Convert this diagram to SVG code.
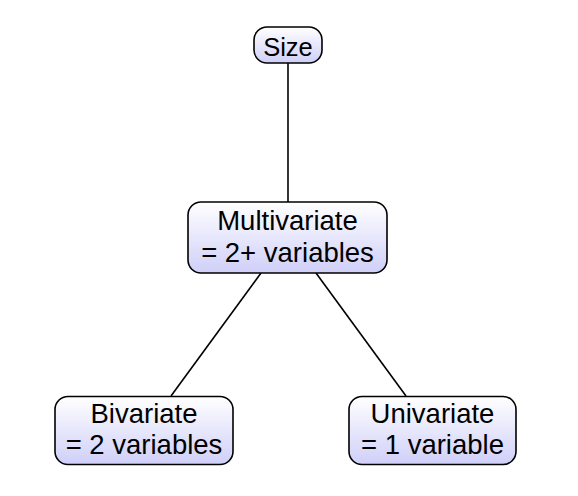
<svg xmlns="http://www.w3.org/2000/svg" width="578" height="496" viewBox="0 0 578 496">
<defs>
<linearGradient id="g" x1="0" y1="0" x2="0" y2="1">
<stop offset="0" stop-color="#ffffff"/>
<stop offset="1" stop-color="#cfcff9"/>
</linearGradient>
<style>
.box{fill:url(#g);stroke:#000;stroke-width:1.6}
.t{font-family:"Liberation Sans",Arial,sans-serif;font-size:27.5px;fill:#000;text-anchor:middle}
.edge{stroke:#000;stroke-width:1.6;fill:none}
</style>
</defs>
<rect width="578" height="496" fill="#fff"/>
<g id="connectors">
<line class="edge" x1="288" y1="63" x2="288" y2="202"/>
<line class="edge" x1="261" y1="273" x2="171" y2="396"/>
<line class="edge" x1="316" y1="273" x2="406" y2="396"/>
</g>
<g id="size">
<rect class="box" x="254" y="27" width="68" height="36" rx="13"/>
<text class="t" x="288" y="55.5" style="font-size:25.5px">Size</text>
</g>
<g id="multivariate">
<rect class="box" x="188" y="202" width="199" height="71" rx="13"/>
<text class="t" x="287.5" y="230">Multivariate</text>
<text class="t" x="287.5" y="262">= 2+ variables</text>
</g>
<g id="bivariate">
<rect class="box" x="55" y="396.5" width="178" height="68" rx="13"/>
<text class="t" x="144" y="423">Bivariate</text>
<text class="t" x="144" y="454">= 2 variables</text>
</g>
<g id="univariate">
<rect class="box" x="349" y="396.5" width="167" height="68" rx="13"/>
<text class="t" x="432.5" y="423">Univariate</text>
<text class="t" x="432.5" y="454">= 1 variable</text>
</g>
</svg>
